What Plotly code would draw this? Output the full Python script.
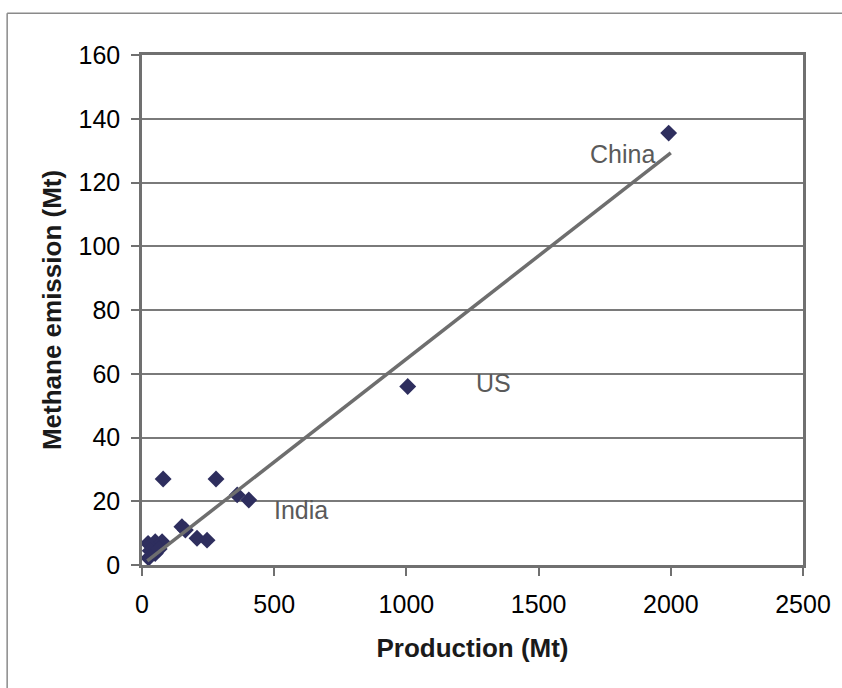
import plotly.graph_objects as go

# Data
production = [23, 50, 76, 31, 25, 50, 65, 151, 164, 208, 246, 80, 280, 360, 404, 1005, 1992]
methane = [6.8, 7.3, 7.3, 4.5, 2.2, 3.6, 5.0, 12.0, 11.0, 8.4, 7.8, 27.0, 27.0, 22.0, 20.4, 56.0, 135.5]

trend_x = [20, 2000]
trend_y = [1.3, 129.3]

label_text = ["China", "US", "India"]
label_x = [1818, 1330, 600]
label_y = [129, 57, 17.3]

x_ticks = [0, 500, 1000, 1500, 2000, 2500]
y_ticks = [0, 20, 40, 60, 80, 100, 120, 140, 160]

FONT = "Liberation Sans, Arial, sans-serif"

fig = go.Figure()
fig.add_trace(go.Scatter(
    x=production, y=methane, mode="markers",
    marker=dict(symbol="diamond", size=13, color="#2e2e5e",
                line=dict(width=0)),
    showlegend=False, cliponaxis=False))
fig.add_trace(go.Scatter(
    x=trend_x, y=trend_y, mode="lines",
    line=dict(color="#6e6e6e", width=3.5),
    showlegend=False))

for t, x, y in zip(label_text, label_x, label_y):
    fig.add_annotation(x=x, y=y, text=t, showarrow=False,
                       font=dict(family=FONT, size=25, color="#5a5a5a"))

# outer frame of the scanned figure (decoration)
fig.add_shape(type="line", xref="paper", yref="paper",
              x0=-0.204, x1=-0.204, y0=-0.25, y1=1.082,
              line=dict(color="#8a8a8a", width=1.5))
fig.add_shape(type="line", xref="paper", yref="paper",
              x0=-0.204, x1=1.06, y0=1.082, y1=1.082,
              line=dict(color="#8a8a8a", width=1.5))

axis_common = dict(
    showline=True, linecolor="#707070", linewidth=2.5, mirror=True,
    zeroline=False,
    ticks="outside", ticklen=8, tickwidth=1.5, tickcolor="#707070",
    tickfont=dict(family=FONT, size=25, color="#000000"),
)

fig.update_layout(
    width=842, height=688,
    margin=dict(l=142, r=39, t=55, b=123),
    paper_bgcolor="white", plot_bgcolor="white",
    xaxis=dict(range=[0, 2500], tickvals=x_ticks, ticklabelstandoff=7,
               showgrid=False,
               title=dict(text="<b>Production (Mt)</b>", standoff=23,
                          font=dict(family=FONT, size=26, color="#1a1a1a")),
               **axis_common),
    yaxis=dict(range=[0, 160], tickvals=y_ticks, ticklabelstandoff=6,
               showgrid=True, gridcolor="#7a7a7a", gridwidth=1.5,
               title=dict(text="<b>Methane emission (Mt)</b>", standoff=10,
                          font=dict(family=FONT, size=26, color="#1a1a1a")),
               **axis_common),
)

fig.write_html("out.html")
